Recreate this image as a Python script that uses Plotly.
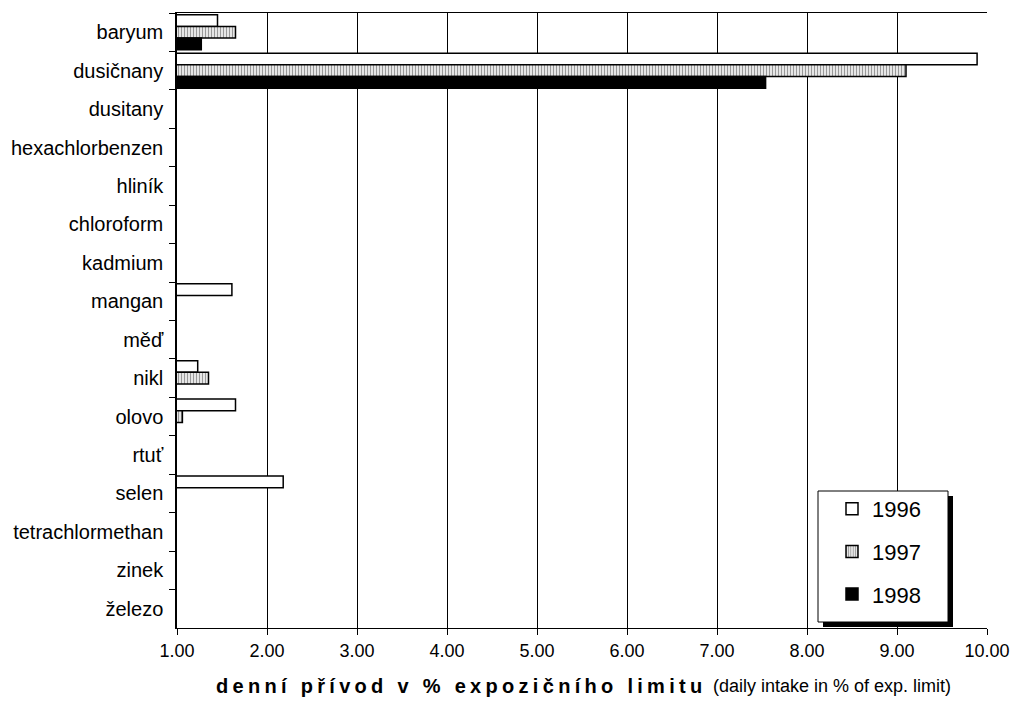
import plotly.graph_objects as go

categories = ["baryum", "dusičnany", "dusitany", "hexachlorbenzen", "hliník", "chloroform",
              "kadmium", "mangan", "měď", "nikl", "olovo", "rtuť", "selen",
              "tetrachlormethan", "zinek", "železo"]
v1996 = [1.45, 9.89, None, None, None, None, None, 1.61, None, 1.23, 1.65, None, 2.18, None, None, None]
v1997 = [1.65, 9.10, None, None, None, None, None, None, None, 1.35, 1.06, None, None, None, None, None]
v1998 = [1.27, 7.54, None, None, None, None, None, None, None, None, None, None, None, None, None, None]
years = ["1996", "1997", "1998"]
x_ticks = [1, 2, 3, 4, 5, 6, 7, 8, 9, 10]
title_bold = "denní přívod v % expozičního limitu"
title_regular = "(daily intake in % of exp. limit)"

W, H = 1014, 708
L, R, T, B = 177, 27, 13, 80
PW, PH = W - L - R, H - T - B

def px(x):
    return (x - L) / PW

def py(y):
    return (H - B - y) / PH

FONT = "Liberation Sans, Arial, sans-serif"

fig = go.Figure()
fig.add_trace(go.Bar(y=categories, x=v1996, name=years[0], orientation="h", legendgroup="a",
                     marker=dict(color="white", line=dict(color="black", width=1.5))))
fig.add_trace(go.Bar(y=categories, x=v1997, name=years[1], orientation="h", legendgroup="b",
                     marker=dict(color="white", line=dict(color="black", width=1.5),
                                 pattern=dict(shape="|", fgcolor="#333333", bgcolor="white",
                                              size=3, solidity=0.5))))
fig.add_trace(go.Bar(y=categories, x=v1998, name=years[2], orientation="h", legendgroup="c",
                     marker=dict(color="black", line=dict(color="black", width=1.5))))

# legend box with shadow
fig.add_shape(type="rect", xref="paper", yref="paper", layer="above",
              x0=px(823), x1=px(953), y0=py(496), y1=py(627),
              fillcolor="black", line=dict(width=0))
fig.add_shape(type="rect", xref="paper", yref="paper", layer="above",
              x0=px(818), x1=px(948), y0=py(491), y1=py(622),
              fillcolor="white", line=dict(color="black", width=1))

# axis title in two parts
fig.add_annotation(xref="paper", yref="paper", x=px(709), y=py(686),
                   xanchor="right", yanchor="middle", showarrow=False,
                   text="<b><span style='letter-spacing:4.3px'>" + title_bold + "</span></b>",
                   font=dict(size=20, family=FONT, color="black"))
fig.add_annotation(xref="paper", yref="paper", x=px(711), y=py(686),
                   xanchor="left", yanchor="middle", showarrow=False,
                   text=title_regular,
                   font=dict(size=18, family=FONT, color="black"))

fig.update_layout(
    width=W, height=H,
    margin=dict(l=L, r=R, t=T, b=B, pad=0, autoexpand=False),
    paper_bgcolor="white", plot_bgcolor="white",
    barmode="group", bargap=0.09, bargroupgap=0,
    font=dict(family=FONT, color="black", size=18),
    showlegend=True,
    legend=dict(x=px(832), y=py(488), xanchor="left", yanchor="top",
                bgcolor="rgba(0,0,0,0)", borderwidth=0,
                font=dict(size=22, family=FONT), tracegroupgap=11,
                traceorder="grouped"),
    xaxis=dict(range=[1, 10], tickvals=x_ticks, tickformat=".2f", automargin=False,
               showgrid=True, gridcolor="black", gridwidth=1,
               showline=True, linecolor="black", linewidth=1, mirror=True,
               ticks="outside", ticklen=6, tickcolor="black",
               tickfont=dict(size=18, family=FONT),
               zeroline=False),
    yaxis=dict(type="category", autorange="reversed", categoryorder="array",
               categoryarray=categories, automargin=False,
               showgrid=False, showline=True, linecolor="black", linewidth=1.5,
               ticks="outside", ticklen=6, tickcolor="black", tickson="boundaries",
               tickfont=dict(size=20, family=FONT), ticklabelstandoff=8),
)

fig.write_html("out.html")
